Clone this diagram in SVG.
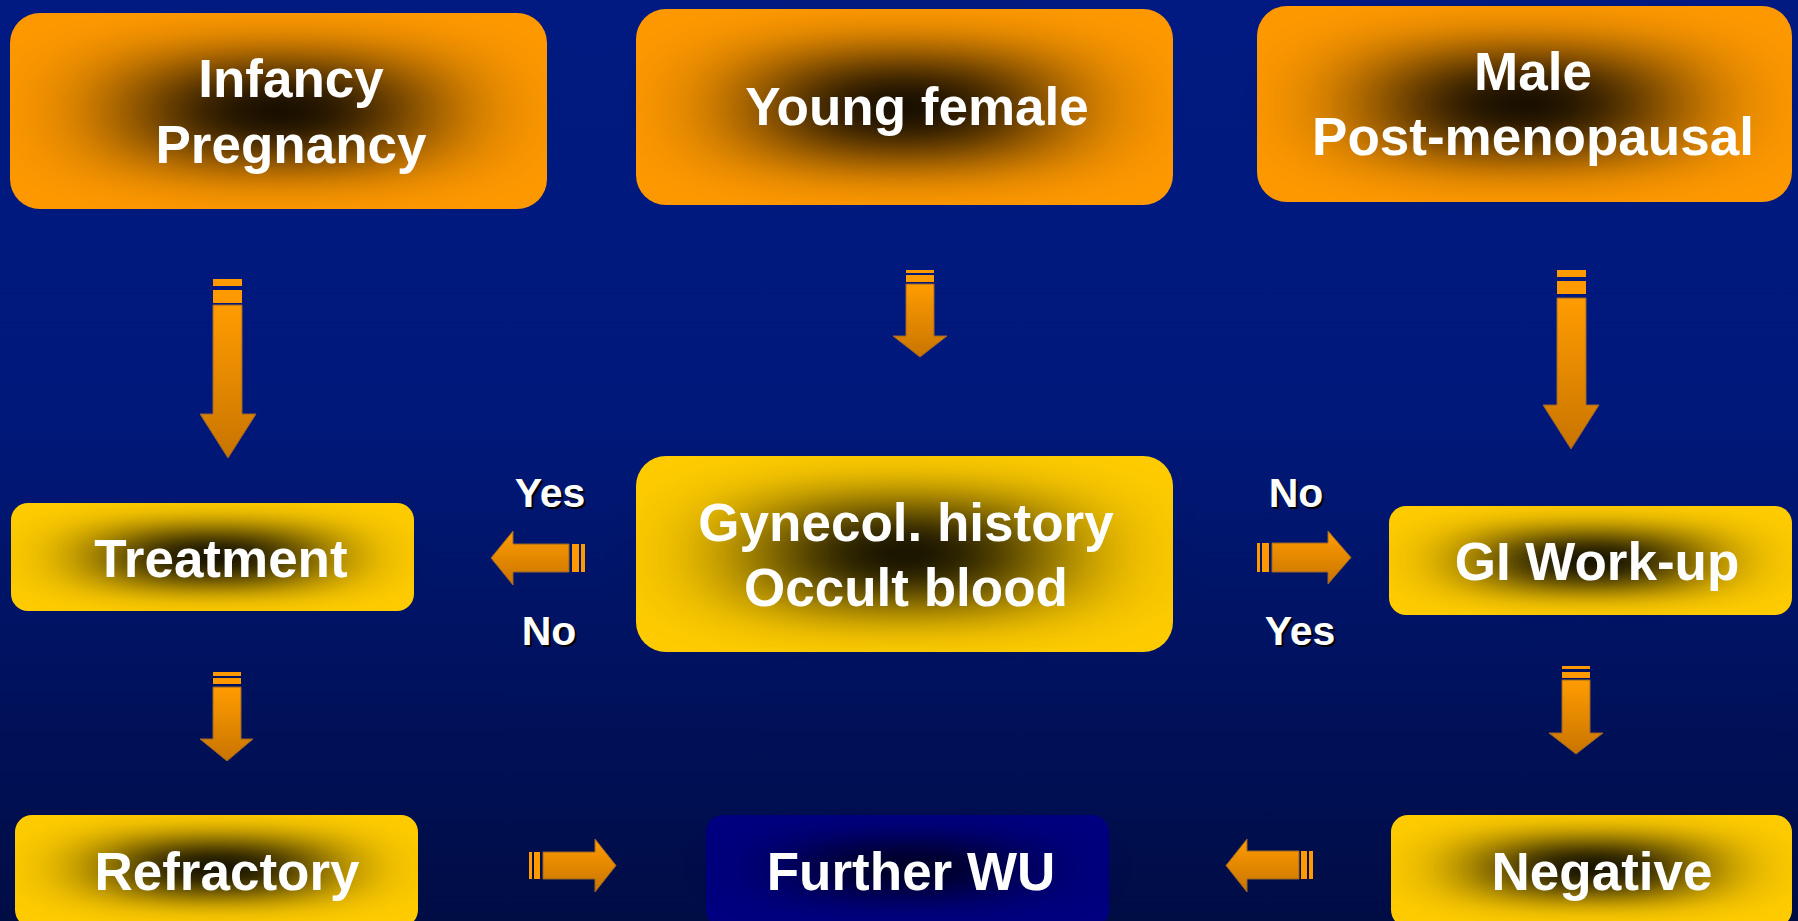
<svg xmlns="http://www.w3.org/2000/svg" width="1798" height="921" viewBox="0 0 1798 921">
<defs>
<linearGradient id="bg" x1="0" y1="0" x2="0" y2="1">
<stop offset="0" stop-color="#001a82"/>
<stop offset="0.45" stop-color="#00187a"/>
<stop offset="1" stop-color="#000c44"/>
</linearGradient>
<filter id="fBig" x="-150%" y="-150%" width="400%" height="400%">
<feGaussianBlur stdDeviation="75 27"/>
</filter>
<filter id="fSmall" x="-150%" y="-150%" width="400%" height="400%">
<feGaussianBlur stdDeviation="56 15"/>
</filter>
<linearGradient id="gArrow" x1="0" y1="0" x2="0" y2="1">
<stop offset="0" stop-color="#ff9c00"/>
<stop offset="1" stop-color="#c87400"/>
</linearGradient>
</defs>
<style>
.t{font-family:"Liberation Sans",Arial,sans-serif;font-weight:bold;fill:#ffffff;text-anchor:middle;font-size:53px}
.l{font-family:"Liberation Sans",Arial,sans-serif;font-weight:bold;fill:#ffffff;text-anchor:middle;font-size:41px}
.ls{font-family:"Liberation Sans",Arial,sans-serif;font-weight:bold;fill:#000000;text-anchor:middle;font-size:41px}
.orange{fill:#ff9900}
.yellow{fill:#ffcc00}
.navy{fill:#000080}
.coreB{fill:#000000;filter:url(#fBig)}
.coreS{fill:#000000;filter:url(#fSmall)}
.coreN{fill:#000000;opacity:0.75;filter:url(#fSmall)}
.ar{fill:url(#gArrow);stroke:#9a6428;stroke-width:1}
.bar{fill:#ff9900}
</style>
<rect x="0" y="0" width="1798" height="921" fill="url(#bg)"/>

<g id="infancy">
<rect class="orange" x="10" y="13" width="537" height="196" rx="30"/>
<rect class="coreB" x="144.25" y="62" width="268.5" height="98"/>
<text class="t" x="291" y="97">Infancy</text>
<text class="t" x="291" y="163">Pregnancy</text>
</g>
<g id="young-female">
<rect class="orange" x="636" y="9" width="537" height="196" rx="30"/>
<rect class="coreB" x="770.25" y="58" width="268.5" height="98"/>
<text class="t" x="917" y="125">Young female</text>
</g>
<g id="male">
<rect class="orange" x="1257" y="6" width="535" height="196" rx="30"/>
<rect class="coreB" x="1390.75" y="55" width="267.5" height="98"/>
<text class="t" x="1533" y="90">Male</text>
<text class="t" x="1533" y="155">Post-menopausal</text>
</g>
<g id="treatment">
<rect class="yellow" x="11" y="503" width="403" height="108" rx="17"/>
<rect class="coreS" x="111.75" y="530" width="201.5" height="54"/>
<text class="t" x="221" y="577">Treatment</text>
</g>
<g id="gynecol">
<rect class="yellow" x="636" y="456" width="537" height="196" rx="30"/>
<rect class="coreB" x="770.25" y="505" width="268.5" height="98"/>
<text class="t" x="906" y="541">Gynecol. history</text>
<text class="t" x="906" y="606">Occult blood</text>
</g>
<g id="gi-workup">
<rect class="yellow" x="1389" y="506" width="403" height="109" rx="17"/>
<rect class="coreS" x="1489.75" y="533.5" width="201.5" height="54"/>
<text class="t" x="1597" y="580">GI Work-up</text>
</g>
<g id="refractory">
<rect class="yellow" x="15" y="815" width="403" height="112" rx="17"/>
<rect class="coreS" x="115.75" y="841" width="201.5" height="54"/>
<text class="t" x="227" y="890">Refractory</text>
</g>
<g id="further-wu">
<rect class="navy" x="706" y="815" width="403" height="112" rx="17"/>
<rect class="coreN" x="806.75" y="841" width="201.5" height="54"/>
<text class="t" x="911" y="890">Further WU</text>
</g>
<g id="negative">
<rect class="yellow" x="1391" y="815" width="401" height="112" rx="17"/>
<rect class="coreS" x="1491.25" y="841" width="200.5" height="54"/>
<text class="t" x="1602" y="890">Negative</text>
</g>

<g id="connectors">
<rect class="bar" x="213" y="279" width="29" height="7"/>
<rect class="bar" x="213" y="290" width="29" height="13"/>
<path class="ar" d="M213,305 H242 V414 H256 L228,458 L200,414 H213 Z"/>
<rect class="bar" x="906" y="270" width="28" height="3"/>
<rect class="bar" x="906" y="275" width="28" height="7"/>
<path class="ar" d="M906,284 H934 V336 H947 L920,357 L893,336 H906 Z"/>
<rect class="bar" x="1557" y="270" width="29" height="7"/>
<rect class="bar" x="1557" y="281" width="29" height="13"/>
<path class="ar" d="M1557,298 H1586 V405 H1599 L1571,449 L1543,405 H1557 Z"/>
<rect class="bar" x="213" y="672" width="28" height="4"/>
<rect class="bar" x="213" y="678" width="28" height="6"/>
<path class="ar" d="M213,687 H241 V739 H253 L227,761 L200,739 H213 Z"/>
<rect class="bar" x="1562" y="666" width="28" height="3"/>
<rect class="bar" x="1562" y="672" width="28" height="6"/>
<path class="ar" d="M1562,680 H1590 V733 H1603 L1576,754 L1549,733 H1562 Z"/>
<rect class="bar" x="572" y="544" width="7" height="28"/>
<rect class="bar" x="581" y="544" width="4" height="28"/>
<path class="ar" d="M569,544 V572 H513 V585 L491,558 L513,531 V544 Z"/>
<rect class="bar" x="1257" y="543" width="3" height="29"/>
<rect class="bar" x="1262" y="543" width="7" height="29"/>
<path class="ar" d="M1272,543 H1328 V531 L1351,557.5 L1328,584 V572 H1272 Z"/>
<rect class="bar" x="529" y="852" width="3" height="27"/>
<rect class="bar" x="534" y="852" width="6" height="27"/>
<path class="ar" d="M543,852 H595 V839 L616,865.5 L595,892 V879 H543 Z"/>
<rect class="bar" x="1301" y="851" width="6" height="28"/>
<rect class="bar" x="1309" y="851" width="4" height="28"/>
<path class="ar" d="M1299,851 V879 H1247 V892 L1226,865.5 L1247,839 V851 Z"/>
<text class="ls" x="552" y="509">Yes</text>
<text class="l" x="550" y="507">Yes</text>
<text class="ls" x="551" y="647">No</text>
<text class="l" x="549" y="645">No</text>
<text class="ls" x="1298" y="509">No</text>
<text class="l" x="1296" y="507">No</text>
<text class="ls" x="1302" y="647">Yes</text>
<text class="l" x="1300" y="645">Yes</text>
</g>
</svg>
